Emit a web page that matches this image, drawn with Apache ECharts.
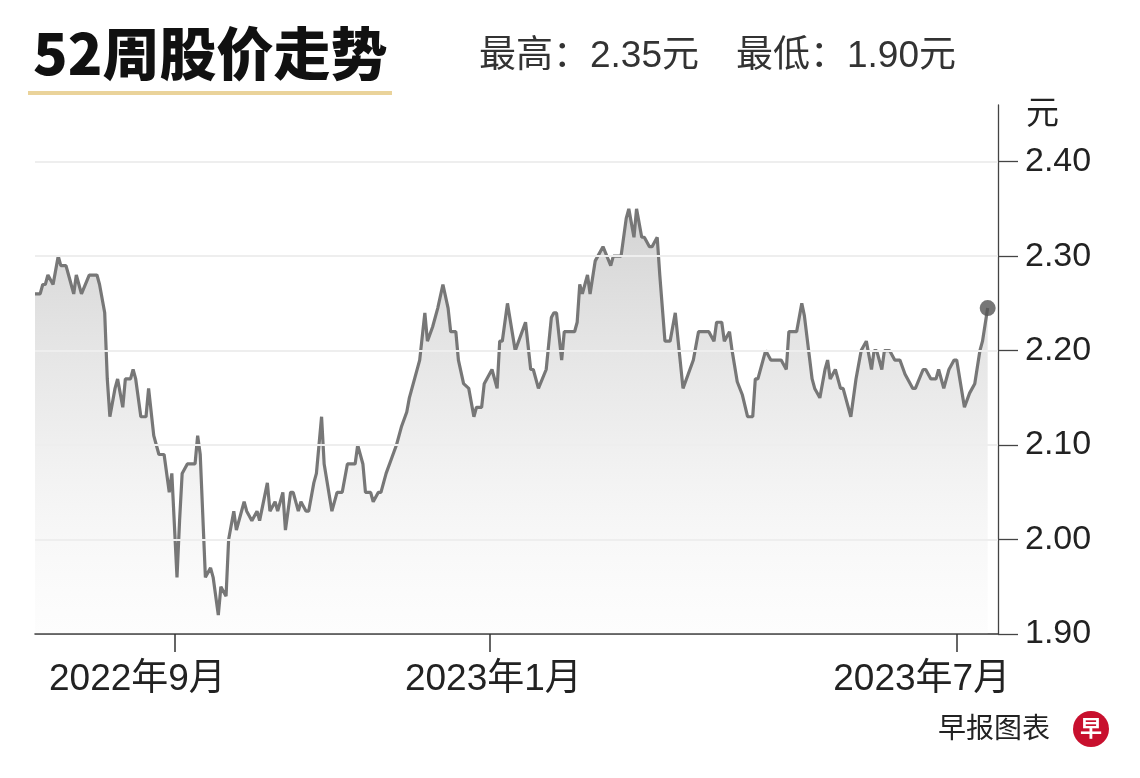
<!DOCTYPE html>
<html>
<head>
<meta charset="utf-8">
<script src="https://cdn.jsdelivr.net/npm/echarts@6/dist/echarts.min.js"></script>
<style>
html,body{margin:0;padding:0;background:#fff;}
#chart{width:1140px;height:778px;}
</style>
</head>
<body>
<div id="chart"></div>
<script>
// ---- Data ----
const titleText = '52周股价走势';
const highValue = '2.35';
const lowValue = '1.90';
const unitText = '元';
const sourceText = '早报图表';

const dates = [
'2022-07-09','2022-07-11','2022-07-12','2022-07-13','2022-07-14','2022-07-16','2022-07-18','2022-07-19','2022-07-21','2022-07-22',
'2022-07-24','2022-07-25','2022-07-27','2022-07-30','2022-08-02','2022-08-03','2022-08-05','2022-08-06','2022-08-07','2022-08-09',
'2022-08-10','2022-08-12','2022-08-13','2022-08-15','2022-08-16','2022-08-17','2022-08-19','2022-08-21','2022-08-22','2022-08-24',
'2022-08-26','2022-08-28','2022-08-30','2022-08-31','2022-09-02','2022-09-03','2022-09-04','2022-09-06','2022-09-09','2022-09-10',
'2022-09-11','2022-09-13','2022-09-15','2022-09-16','2022-09-18','2022-09-19','2022-09-21','2022-09-22','2022-09-24','2022-09-25',
'2022-09-28','2022-09-29','2022-10-01','2022-10-03','2022-10-04','2022-10-07','2022-10-08','2022-10-10',
'2022-10-11','2022-10-13','2022-10-14','2022-10-16','2022-10-17','2022-10-19','2022-10-20','2022-10-22','2022-10-23','2022-10-25',
'2022-10-26','2022-10-28','2022-10-29','2022-11-01','2022-11-03','2022-11-05','2022-11-07','2022-11-08','2022-11-10','2022-11-11',
'2022-11-13','2022-11-14','2022-11-16','2022-11-17','2022-11-19','2022-11-20','2022-11-22','2022-11-24','2022-11-26','2022-11-28',
'2022-11-30','2022-12-01','2022-12-05','2022-12-07','2022-12-08','2022-12-10','2022-12-12','2022-12-14','2022-12-16','2022-12-17',
'2022-12-19','2022-12-20','2022-12-22','2022-12-24','2022-12-26','2022-12-27','2022-12-29','2022-12-30','2023-01-02','2023-01-04',
'2023-01-05','2023-01-06','2023-01-08',
'2023-01-11','2023-01-15','2023-01-17','2023-01-18','2023-01-20','2023-01-23','2023-01-25','2023-01-26','2023-01-27','2023-01-29',
'2023-01-30','2023-02-01','2023-02-03','2023-02-04','2023-02-05','2023-02-06','2023-02-08','2023-02-09','2023-02-11','2023-02-14',
'2023-02-17','2023-02-18','2023-02-21','2023-02-23','2023-02-24','2023-02-26','2023-02-27','2023-03-01','2023-03-02','2023-03-04',
'2023-03-05','2023-03-07','2023-03-08','2023-03-10','2023-03-12','2023-03-14','2023-03-17','2023-03-19','2023-03-21','2023-03-23',
'2023-03-27','2023-03-29','2023-03-30','2023-04-01','2023-04-02','2023-04-04','2023-04-05','2023-04-07','2023-04-09','2023-04-11',
'2023-04-13',
'2023-04-14','2023-04-15','2023-04-18','2023-04-20','2023-04-24','2023-04-26','2023-04-27','2023-04-29','2023-04-30','2023-05-02',
'2023-05-03','2023-05-06','2023-05-07','2023-05-09','2023-05-11','2023-05-12','2023-05-13','2023-05-15','2023-05-17','2023-05-18',
'2023-05-21','2023-05-23','2023-05-25','2023-05-27','2023-05-29','2023-05-30','2023-05-31','2023-06-02','2023-06-03','2023-06-05',
'2023-06-07','2023-06-09','2023-06-11','2023-06-14','2023-06-15','2023-06-18','2023-06-19','2023-06-21','2023-06-23','2023-06-24',
'2023-06-26','2023-06-28','2023-06-30','2023-07-01','2023-07-04','2023-07-06','2023-07-08','2023-07-10','2023-07-11','2023-07-13'
];

const prices = [
2.26,2.26,2.27,2.27,2.28,2.27,2.30,2.29,2.29,2.28,
2.26,2.28,2.26,2.28,2.28,2.27,2.24,2.17,2.13,2.16,
2.17,2.14,2.17,2.17,2.18,2.17,2.13,2.13,2.16,2.11,
2.09,2.09,2.05,2.07,1.96,2.02,2.07,2.08,2.08,2.11,
2.09,1.96,1.97,1.96,1.92,1.95,1.94,2.00,2.03,2.01,
2.04,2.03,2.02,2.03,2.02,2.06,2.03,2.04,
2.03,2.05,2.01,2.05,2.05,2.03,2.04,2.03,2.03,2.06,
2.07,2.13,2.08,2.03,2.05,2.05,2.08,2.08,2.08,2.10,
2.08,2.05,2.05,2.04,2.05,2.05,2.07,2.085,2.10,2.12,
2.135,2.15,2.19,2.24,2.21,2.225,2.245,2.27,2.245,2.22,
2.22,2.19,2.165,2.16,2.13,2.14,2.14,2.165,2.18,2.16,
2.21,2.21,2.25,
2.20,2.23,2.18,2.18,2.16,2.18,2.235,2.24,2.24,2.19,
2.22,2.22,2.22,2.23,2.27,2.26,2.28,2.26,2.295,2.31,
2.29,2.30,2.30,2.34,2.35,2.32,2.35,2.32,2.32,2.31,
2.31,2.32,2.28,2.21,2.21,2.24,2.16,2.175,2.19,2.22,
2.22,2.21,2.23,2.23,2.21,2.22,2.20,2.167,2.153,2.13,
2.13,
2.17,2.17,2.20,2.19,2.19,2.18,2.22,2.22,2.22,2.25,
2.237,2.17,2.16,2.15,2.18,2.19,2.17,2.18,2.16,2.16,
2.13,2.17,2.20,2.21,2.18,2.20,2.20,2.18,2.20,2.20,
2.19,2.19,2.175,2.16,2.16,2.18,2.18,2.17,2.17,2.18,
2.16,2.18,2.19,2.19,2.14,2.155,2.165,2.20,2.21,2.245
];

const xMin = '2022-07-09';
const xMax = '2023-07-17';
const xTickDates = ['2022-09-01', '2023-01-01', '2023-07-01'];
const xTickLabels = ['2022年9月', '2023年1月', '2023年7月'];
const yMin = 1.90;
const yMax = 2.46;
const yTicks = [1.90, 2.00, 2.10, 2.20, 2.30, 2.40];
const gridValues = [2.00, 2.10, 2.20, 2.30, 2.40];

// ---- Build ----
const toTime = d => Date.UTC(+d.slice(0, 4), +d.slice(5, 7) - 1, +d.slice(8, 10));
const seriesData = dates.map((d, i) => [toTime(d), prices[i]]);
const lastPoint = seriesData[seriesData.length - 1];
const xTickTimes = xTickDates.map(toTime);
const FONT = '"Liberation Sans", "Noto Sans CJK SC", sans-serif';

const chart = echarts.init(document.getElementById('chart'), null, {renderer: 'canvas'});
const option = {
  animation: false,
  backgroundColor: '#ffffff',
  title: [
    {
      text: titleText, left: 28, top: 20,
      textStyle: {fontSize: 57, fontWeight: 900, color: '#111', fontFamily: '"Noto Sans CJK SC", sans-serif'}
    },
    {
      text: '最高：' + highValue + '元　最低：' + lowValue + '元', left: 474, top: 33,
      textStyle: {fontSize: 37, fontWeight: 'normal', color: '#333', fontFamily: FONT}
    },
    {
      text: sourceText, left: 933, top: 711,
      textStyle: {fontSize: 28, fontWeight: 'normal', color: '#222', fontFamily: FONT}
    }
  ],
  graphic: [
    {type: 'rect', left: 28, top: 91, shape: {width: 364, height: 4}, style: {fill: '#ead39a'}},
    {type: 'circle', left: 1073, top: 711, shape: {r: 18}, style: {fill: '#c8102e'}},
    {type: 'text', left: 1080, top: 717, style: {text: '早', fill: '#fff', font: 'bold 22px "Noto Sans CJK SC"'}}
  ],
  grid: {left: 35, right: 142, top: 105, bottom: 144},
  xAxis: {
    type: 'value',
    min: toTime(xMin),
    max: toTime(xMax),
    axisLine: {show: true, onZero: false, lineStyle: {color: '#333', width: 1.5}},
    axisTick: {show: true, length: 18, lineStyle: {color: '#333', width: 1.5}, customValues: xTickTimes},
    axisLabel: {
      customValues: xTickTimes,
      margin: 27,
      formatter: function (v) {
        const i = xTickTimes.indexOf(+v);
        return i < 0 ? '' : '{l' + i + '|' + xTickLabels[i] + '}';
      },
      rich: {
        l0: {fontSize: 37, color: '#222', fontFamily: FONT, padding: [0, 74, 0, 0]},
        l1: {fontSize: 37, color: '#222', fontFamily: FONT, padding: [0, 0, 0, 8]},
        l2: {fontSize: 37, color: '#222', fontFamily: FONT, padding: [0, 70, 0, 0]}
      }
    },
    splitLine: {show: false}
  },
  yAxis: {
    type: 'value',
    position: 'right',
    min: yMin,
    max: yMax,
    name: unitText,
    nameLocation: 'end',
    nameGap: -10,
    nameTextStyle: {fontSize: 33, color: '#222', fontFamily: FONT, align: 'left', verticalAlign: 'middle', padding: [0, 0, 0, 28]},
    axisLine: {show: true, lineStyle: {color: '#444', width: 1.3}},
    axisTick: {show: true, length: 20, lineStyle: {color: '#444', width: 1.3}, customValues: yTicks},
    axisLabel: {
      customValues: yTicks,
      margin: 27,
      fontSize: 34, color: '#222', fontFamily: FONT,
      formatter: v => Number(v).toFixed(2)
    },
    splitLine: {show: false}
  },
  series: [
    {
      type: 'line',
      data: seriesData,
      showSymbol: false,
      symbol: 'none',
      lineStyle: {color: '#777', width: 3.2},
      areaStyle: {
        color: {
          type: 'linear', x: 0, y: 0, x2: 0, y2: 1,
          colorStops: [
            {offset: 0, color: 'rgba(150,150,150,0.6)'},
            {offset: 0.5, color: 'rgba(190,190,190,0.4)'},
            {offset: 1, color: 'rgba(235,235,235,0.15)'}
          ]
        }
      },
      markLine: {
        silent: true,
        symbol: 'none',
        label: {show: false},
        lineStyle: {color: '#eeeeee', width: 2, type: 'solid'},
        data: gridValues.map(v => ({yAxis: v}))
      },
      z: 2
    },
    {
      type: 'scatter',
      data: [lastPoint],
      symbolSize: 16,
      itemStyle: {color: '#555'},
      z: 5
    }
  ]
};
chart.setOption(option);
</script>
</body>
</html>
